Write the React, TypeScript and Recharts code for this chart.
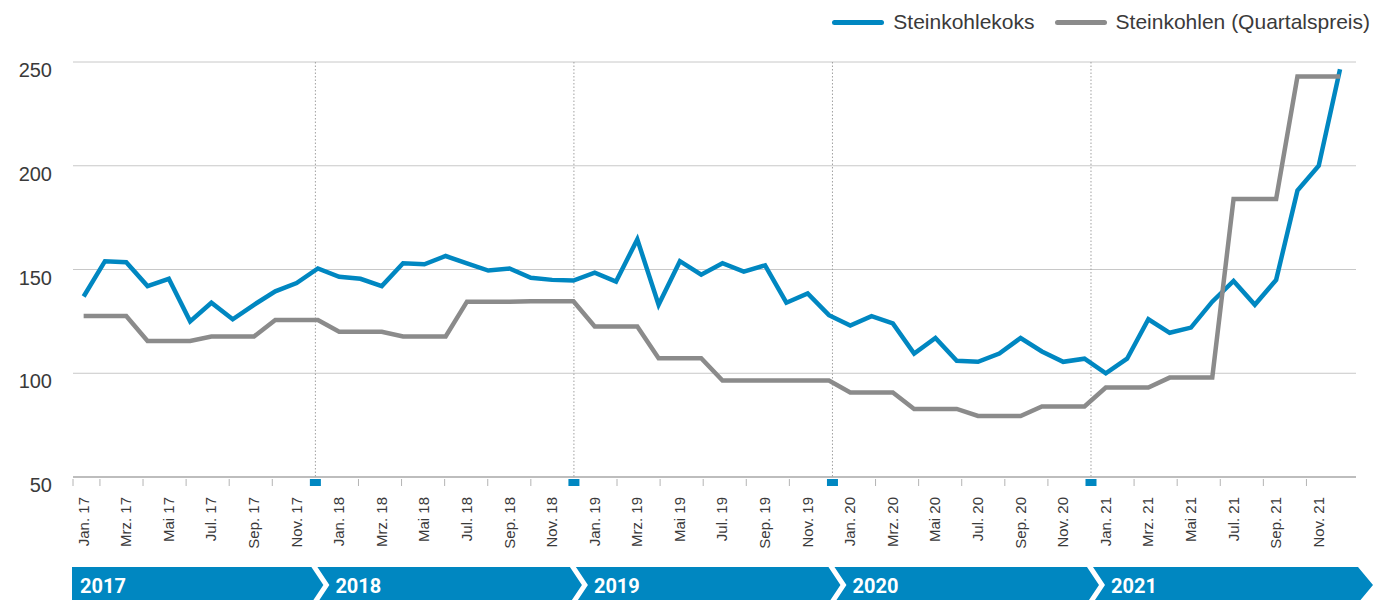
import {
  CartesianGrid,
  Legend,
  Line,
  LineChart,
  ReferenceArea,
  ReferenceLine,
  XAxis,
  YAxis,
} from "recharts";

const BLUE = "#0087c1";
const GRAY = "#8b8b8b";
const TEXT = "#3a3a3a";
const FONT = "'Liberation Sans', Arial, sans-serif";

const monthNames = ["Jan.", "Feb.", "Mrz.", "Apr.", "Mai", "Jun.", "Jul.", "Aug.", "Sep.", "Okt.", "Nov.", "Dez."];
const yearShort = ["17", "18", "19", "20", "21"];
const yearLabels = ["2017", "2018", "2019", "2020", "2021"];

// Steinkohlekoks, monthly
const koks = [
  137, 154, 153.5, 142, 145.5, 125, 134, 126, 133, 139.5, 143.5, 150.5,
  146.5, 145.5, 142, 153, 152.5, 156.5, 153, 149.5, 150.5, 146, 145, 144.7,
  148.5, 144.2, 164.5, 133, 154, 147.5, 153, 149, 152, 134, 138.5, 128,
  123, 127.5, 124, 109.5, 117, 106, 105.5, 109.5, 117, 110.5, 105.5, 107,
  100, 107, 126, 119.5, 122, 134.5, 144.5, 133, 145, 188, 200, 246.5,
];

// Steinkohlen, quarterly price repeated for each month
const kohlen = [
  127.6, 127.6, 127.6, 115.6, 115.6, 115.6, 117.7, 117.7, 117.7, 125.7, 125.7, 125.7,
  120, 120, 120, 117.7, 117.7, 117.7, 134.5, 134.5, 134.5, 134.7, 134.7, 134.7,
  122.5, 122.5, 122.5, 107.2, 107.2, 107.2, 96.5, 96.5, 96.5, 96.5, 96.5, 96.5,
  90.7, 90.7, 90.7, 82.8, 82.8, 82.8, 79.4, 79.4, 79.4, 84, 84, 84,
  93.1, 93.1, 93.1, 97.9, 97.9, 97.9, 184, 184, 184, 243, 243, 243,
];

const yTicks = [50, 100, 150, 200, 250];
const labelTicks = Array.from({ length: 30 }, (_, k) => k * 2);
// band axis: year boundaries and the small tick marks between them
const yearBounds = [0.75, 12, 24, 36, 48, 60.3];
const yearMarks = [12, 24, 36, 48];
const minorTicks = [0.75, ...Array.from({ length: 30 }, (_, k) => (k + 1) * 2).filter((v) => v % 12 !== 0)];

const series = [
  { key: "koks", name: "Steinkohlekoks", color: BLUE },
  { key: "kohlen", name: "Steinkohlen (Quartalspreis)", color: GRAY },
];

const months = yearShort.flatMap((y) => monthNames.map((m) => `${m} ${y}`));
const data = months.map((m, i) => ({ i, month: m, koks: koks[i], kohlen: kohlen[i] }));

function MonthTick(props: any) {
  const { x, y, payload } = props;
  return (
    <text
      transform={`translate(${x + 5},${y + 12}) rotate(-90)`}
      textAnchor="end"
      fontSize={15}
      fill={TEXT}
      fontFamily={FONT}
    >
      {months[payload.value]}
    </text>
  );
}

function ValueTick(props: any) {
  const { x, y, payload } = props;
  return (
    <text x={x} y={y + 8} dy="0.355em" textAnchor="end" fontSize={20} fill={TEXT} fontFamily={FONT}>
      {payload.value}
    </text>
  );
}

function YearMarker(props: any) {
  const { x1, y1, y2 } = props;
  const top = Math.min(y1, y2);
  const bottom = Math.max(y1, y2);
  return (
    <g>
      <line x1={x1} x2={x1} y1={top} y2={bottom} stroke="#a0a0a0" strokeDasharray="1.5 2" />
      <rect x={x1 - 5.5} y={bottom + 2} width={11} height={7} fill={BLUE} />
    </g>
  );
}

function MinorTick(props: any) {
  const { x1, y1, y2 } = props;
  const bottom = Math.max(y1, y2);
  return <line x1={x1} x2={x1} y1={bottom + 2} y2={bottom + 9} stroke="#b4b4b4" />;
}

function YearSegment(props: any) {
  const { x, y, width, height, idx } = props;
  const top = y + height + 90;
  const bot = top + 36;
  const mid = (top + bot) / 2;
  const d = 12;
  const first = idx === 0;
  const last = idx === yearLabels.length - 1;
  const l = first ? x - 1 : x + 2;
  const r = last ? x + width + 2 : x + width - 4;
  const pts = [
    [l, top],
    [r, top],
    [r + (last ? 15 : d), mid],
    [r, bot],
    [l, bot],
  ];
  if (!first) pts.push([l + d, mid]);
  return (
    <g>
      <polygon points={pts.map((p) => p.join(",")).join(" ")} fill={BLUE} />
      <text
        x={first ? l + 8 : l + d + 6}
        y={top + 26}
        fill="#fff"
        fontSize={20}
        fontWeight={700}
        fontFamily="Roboto, 'Liberation Sans', Arial, sans-serif"
      >
        {yearLabels[idx]}
      </text>
    </g>
  );
}

function LegendBox() {
  return (
    <div style={{ height: 54, display: "flex", justifyContent: "flex-end", alignItems: "flex-start" }}>
      {series.map((s) => (
        <div key={s.key} style={{ display: "flex", alignItems: "center", height: 28, marginLeft: 20 }}>
          <span
            style={{ width: 52, height: 5, borderRadius: 3, background: s.color, marginRight: 9, display: "inline-block" }}
          />
          <span style={{ fontSize: 21, color: TEXT, fontFamily: FONT }}>{s.name}</span>
        </div>
      ))}
    </div>
  );
}

export default function App() {
  return (
    <div style={{ position: "absolute", left: 0, top: 0, fontFamily: FONT }}>
      <LineChart width={1373} height={600} data={data} margin={{ top: 8, right: 17, left: 0, bottom: 0 }}>
        <CartesianGrid vertical={false} stroke="#c8c8c8" />
        <XAxis
          dataKey="i"
          type="number"
          domain={[-0.5, 59.75]}
          allowDataOverflow
          ticks={labelTicks}
          interval={0}
          tick={<MonthTick />}
          tickLine={false}
          axisLine={false}
          height={123}
        />
        <XAxis xAxisId="band" dataKey="i" type="number" domain={[yearBounds[0], yearBounds[5]]} allowDataOverflow hide />
        <YAxis
          domain={[50, 250]}
          ticks={yTicks}
          allowDataOverflow
          axisLine={false}
          tickLine={false}
          width={73}
          tickMargin={15}
          tick={<ValueTick />}
        />
        <Legend verticalAlign="top" align="right" wrapperStyle={{ right: 3 }} content={() => <LegendBox />} />

        <ReferenceLine y={50} stroke="#bdbdbd" strokeWidth={2} />
        {yearMarks.map((m) => (
          <ReferenceLine key={`mark-${m}`} xAxisId="band" x={m} shape={(p: any) => <YearMarker {...p} />} />
        ))}
        {minorTicks.map((t) => (
          <ReferenceLine key={`tick-${t}`} xAxisId="band" x={t} shape={(p: any) => <MinorTick {...p} />} />
        ))}
        {yearLabels.map((yl, idx) => (
          <ReferenceArea
            key={yl}
            xAxisId="band"
            x1={yearBounds[idx]}
            x2={yearBounds[idx + 1]}
            shape={(p: any) => <YearSegment {...p} idx={idx} />}
          />
        ))}

        <Line type="linear" dataKey="koks" stroke={BLUE} strokeWidth={4.5} dot={false} isAnimationActive={false} />
        <Line type="linear" dataKey="kohlen" stroke={GRAY} strokeWidth={4.5} dot={false} isAnimationActive={false} />
      </LineChart>
    </div>
  );
}
